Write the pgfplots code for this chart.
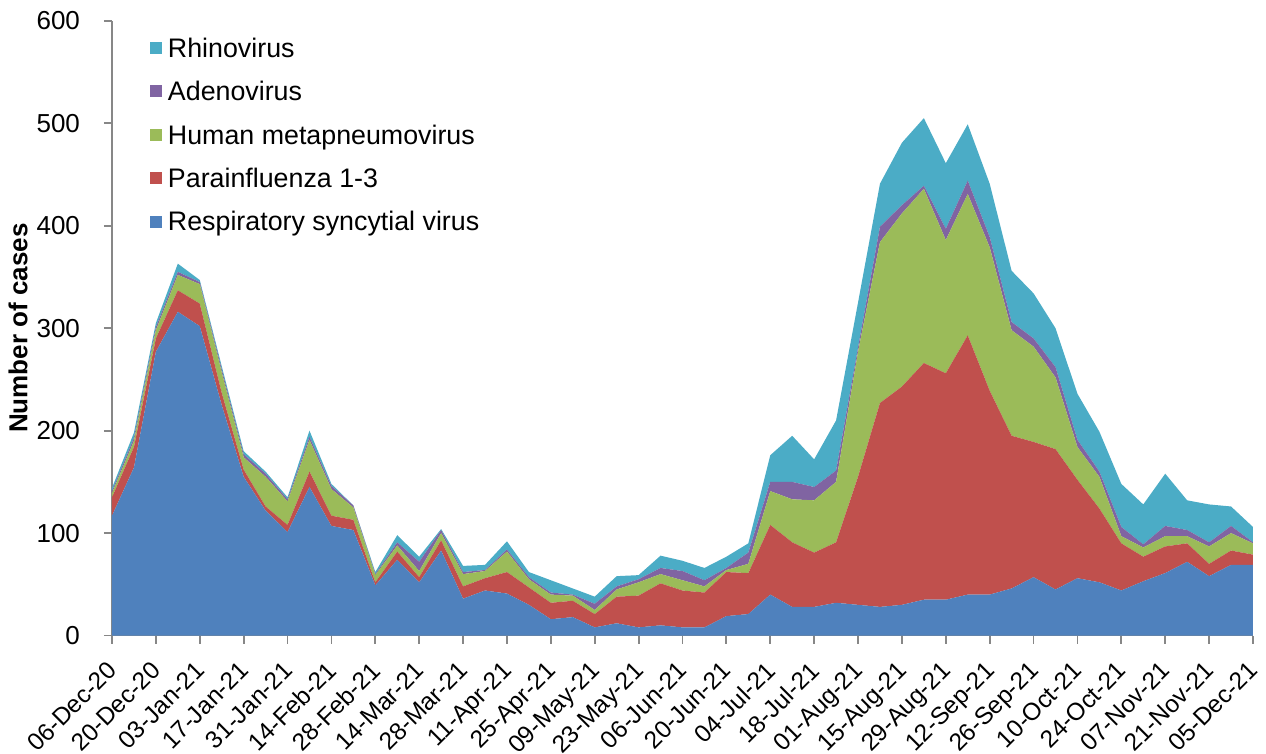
\documentclass[border=0pt]{standalone}
\usepackage{fontspec}
\setmainfont{Liberation Sans}
\usepackage{pgfplots}
\usepackage{pgfplotstable}
\pgfplotsset{compat=1.18}
\definecolor{rsv}{HTML}{4F81BD}
\definecolor{para}{HTML}{C0504D}
\definecolor{hmpv}{HTML}{9BBB59}
\definecolor{adeno}{HTML}{8064A2}
\definecolor{rhino}{HTML}{4BACC6}
\definecolor{axgray}{HTML}{878787}
\pgfplotstableread{
x rsv para hmpv adeno rhino
0 117 18 4 2 3
1 164 20 6 3 5
2 277 13 8 3 4
3 316 21 15 3 8
4 302 22 19 2 2
5 225 12 20 3 3
6 155 7 12 3 3
7 122 4 29 3 2
8 101 7 23 2 2
9 145 15 31 3 6
10 107 10 26 3 2
11 103 10 12 2 0
12 49 3 7 1 2
13 74 8 6 3 7
14 52 5 6 9 5
15 83 10 7 3 1
16 36 12 12 2 6
17 44 12 7 1 5
18 41 21 20 2 8
19 30 17 8 2 5
20 16 16 8 2 12
21 18 16 5 1 6
22 8 13 4 6 7
23 12 26 7 3 10
24 8 31 13 3 4
25 10 41 9 6 12
26 8 36 10 9 10
27 8 34 6 6 12
28 19 43 2 2 11
29 21 40 9 11 9
30 40 68 33 9 26
31 28 63 42 17 45
32 28 53 51 13 27
33 32 59 59 11 49
34 30 125 122 4 44
35 28 199 157 15 42
36 30 213 169 8 61
37 35 231 170 3 66
38 35 221 130 11 64
39 40 253 138 13 55
40 40 199 140 10 52
41 46 149 103 8 50
42 57 132 93 8 44
43 45 137 70 10 38
44 56 96 32 7 45
45 52 72 31 5 39
46 44 46 7 9 42
47 53 24 9 3 39
48 61 26 10 10 51
49 72 18 7 6 29
50 58 12 17 4 37
51 69 14 17 7 19
52 69 10 11 1 15
}\data
\begin{document}
\begin{tikzpicture}[font=\fontsize{13}{15.6}\selectfont]
\useasboundingbox (-56pt,-58.9pt) rectangle (577pt,317.8pt);
\begin{axis}[
  at={(0pt,0pt)}, anchor=south west,
  scale only axis,
  width=570.5pt, height=307.4pt,
  xmin=0, xmax=52, ymin=0, ymax=600,
  stack plots=y,
  axis x line*=bottom, axis y line*=left,
  axis line style={draw=axgray, line width=0.9pt, -},
  tick style={draw=axgray, line width=0.9pt},
  tick align=outside,
  major tick length=4pt,
  xtick={0,2,...,52},
  xticklabels={06-Dec-20,20-Dec-20,03-Jan-21,17-Jan-21,31-Jan-21,14-Feb-21,28-Feb-21,14-Mar-21,28-Mar-21,11-Apr-21,25-Apr-21,09-May-21,23-May-21,06-Jun-21,20-Jun-21,04-Jul-21,18-Jul-21,01-Aug-21,15-Aug-21,29-Aug-21,12-Sep-21,26-Sep-21,10-Oct-21,24-Oct-21,07-Nov-21,21-Nov-21,05-Dec-21},
  xticklabel style={font=\fontsize{12.2}{14.6}\selectfont, rotate=45, anchor=north east, inner sep=1pt, xshift=-6.8pt, yshift=-2.6pt},
  ytick={0,100,...,600},
  yticklabel style={anchor=east, xshift=-8.5pt},
  /pgf/number format/assume math mode=true,
  ylabel={\bfseries Number of cases},
  every axis y label/.style={at={(axis description cs:-0.0824,0.5)}, rotate=90, anchor=center},
  reverse legend,
  legend style={at={(0.0333,0.974)}, anchor=north west, draw=none, fill=none,
    inner sep=0pt, row sep=8.3pt,
    nodes={inner sep=0.5pt, anchor=west, text height=9.6pt, text depth=2.8pt},
    font=\fontsize{13.4}{16}\selectfont},
  legend cell align=left,
  legend image code/.code={\fill[#1] (0pt,-1.7pt) rectangle (6pt,4.3pt); \path (8.3pt,0pt);},
]
\addplot[fill=rsv, draw=none] table[x=x,y=rsv]{\data} \closedcycle;
\addlegendentry{Respiratory syncytial virus}
\addplot[fill=para, draw=none] table[x=x,y=para]{\data} \closedcycle;
\addlegendentry{Parainfluenza 1-3}
\addplot[fill=hmpv, draw=none] table[x=x,y=hmpv]{\data} \closedcycle;
\addlegendentry{Human metapneumovirus}
\addplot[fill=adeno, draw=none] table[x=x,y=adeno]{\data} \closedcycle;
\addlegendentry{Adenovirus}
\addplot[fill=rhino, draw=none] table[x=x,y=rhino]{\data} \closedcycle;
\addlegendentry{Rhinovirus}
\end{axis}
\end{tikzpicture}
\end{document}
